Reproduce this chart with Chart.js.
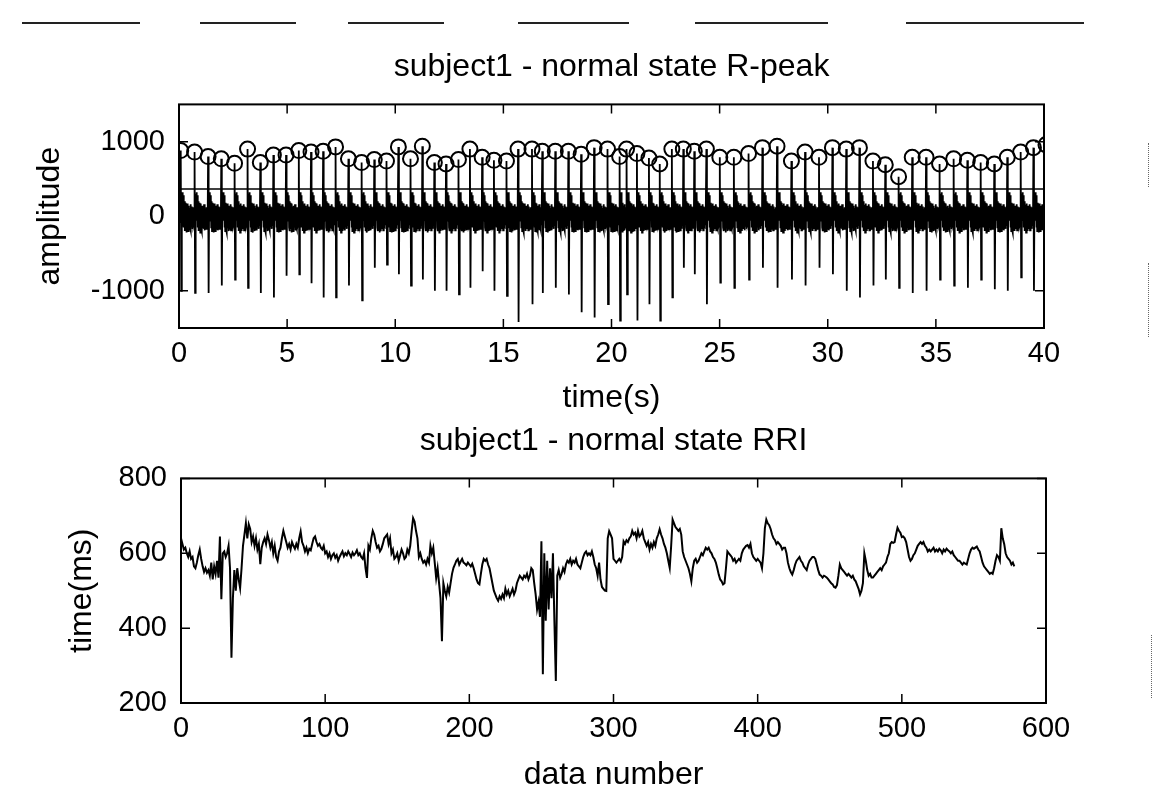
<!DOCTYPE html>
<html>
<head>
<meta charset="utf-8">
<title>subject1 - normal state</title>
<script src="https://cdn.jsdelivr.net/npm/chart.js@4.4.1/dist/chart.umd.min.js"></script>
<style>
  body { margin: 0; background: #fff; overflow: hidden; }
  #page { position: relative; width: 1154px; height: 798px; overflow: hidden; background: #fff; }
  .box { position: absolute; left: 0; }
  #peakBox { top: 0; }
  #rriBox { top: 410px; }
  .dash { position: absolute; top: 22px; height: 0; border-top: 2px solid #222; }
  .dots { position: absolute; width: 0; border-left: 1px dotted #666; }
</style>
</head>
<body>
<div id="page">
  <div class="dash" style="left:22px;width:118px"></div>
  <div class="dash" style="left:200px;width:96px"></div>
  <div class="dash" style="left:348px;width:96px"></div>
  <div class="dash" style="left:518px;width:111px"></div>
  <div class="dash" style="left:695px;width:133px"></div>
  <div class="dash" style="left:906px;width:178px"></div>
  <div class="dots" style="left:1148px;top:143px;height:44px"></div>
  <div class="dots" style="left:1148px;top:263px;height:74px"></div>
  <div class="dots" style="left:1151px;top:635px;height:63px"></div>
  <div class="box" id="peakBox"><canvas id="peakChart" width="1154" height="425"></canvas></div>
  <div class="box" id="rriBox"><canvas id="rriChart" width="1154" height="388"></canvas></div>
</div>
<script>
// RR intervals in ms, one per beat
const rri = [
  640, 625, 610, 615, 600, 590, 605, 585, 590, 565,
  560, 575, 595, 610, 585, 565, 550, 560, 548, 555,
  540, 575, 530, 565, 545, 580, 535, 645, 477, 600,
  605, 590, 600, 620, 560, 321, 480, 555, 500, 560,
  530, 507, 560, 620, 650, 680, 640, 677, 665, 630,
  645, 620, 640, 610, 625, 571, 615, 630, 640, 625,
  650, 635, 615, 630, 600, 620, 590, 580, 605, 615,
  640, 660, 645, 630, 615, 625, 610, 630, 620, 612,
  625, 615, 640, 658, 630, 620, 605, 615, 600, 612,
  608, 625, 640, 645, 630, 620, 625, 615, 610, 620,
  600, 605, 590, 600, 585, 595, 600, 588, 595, 580,
  590, 598, 605, 592, 600, 595, 605, 598, 590, 602,
  595, 600, 608, 595, 600, 590, 585, 600, 560, 534,
  620, 610, 640, 660, 650, 630, 615, 620, 605, 612,
  625, 640, 645, 650, 625, 640, 600, 610, 585, 590,
  600, 580, 595, 610, 600, 585, 590, 610, 600, 620,
  660, 694, 685, 660, 640, 590, 600, 585, 575, 580,
  570, 585, 575, 620, 600, 615, 575, 534, 560, 520,
  480, 365, 520, 500, 485, 510, 495, 520, 545, 561,
  570, 580, 585, 570, 578, 585, 575, 572, 568, 575,
  570, 565, 572, 560, 545, 530, 520, 517, 545, 570,
  585, 580, 585, 570, 560, 540, 520, 500, 490, 480,
  473, 485, 478, 490, 480, 505, 490, 500, 485, 495,
  505, 490, 500, 520, 530, 540, 535, 530, 540, 535,
  545, 530, 540, 560, 555, 520, 490, 450, 470, 430,
  632, 277, 600, 420, 580, 450, 560, 480, 600, 420,
  259, 540, 555, 535, 545, 560, 550, 570, 580, 575,
  585, 570, 580, 575, 585, 570, 565, 560, 575, 590,
  600, 605, 595, 600, 595, 605, 590, 570, 560, 540,
  575, 530, 510, 505, 500, 499, 640, 659, 650, 640,
  585, 580, 575, 580, 585, 578, 590, 632, 625, 635,
  630, 640, 645, 660, 650, 655, 640, 660, 645, 650,
  660, 640, 630, 620, 630, 610, 625, 615, 630, 620,
  640, 650, 664, 650, 640, 625, 615, 600, 580, 561,
  620, 690, 680, 670, 665, 660, 665, 650, 605, 590,
  580, 570, 560, 545, 525, 560, 580, 585, 575, 580,
  590, 600, 595, 605, 615, 610, 615, 605, 600, 590,
  585, 575, 560, 543, 530, 525, 517, 520, 560, 605,
  600, 595, 590, 580, 585, 575, 580, 585, 580, 600,
  610, 615, 620, 622, 615, 625, 600, 590, 585, 580,
  585, 580, 575, 560, 600, 667, 690, 680, 675, 665,
  650, 640, 635, 625, 630, 625, 620, 610, 615, 615,
  600, 575, 560, 550, 543, 555, 570, 580, 585, 590,
  580, 575, 565, 560, 555, 570, 580, 585, 590, 590,
  585, 570, 555, 543, 540, 535, 540, 538, 535, 530,
  525, 520, 517, 510, 508, 515, 540, 570, 560, 555,
  550, 545, 540, 545, 540, 535, 540, 530, 525, 515,
  505, 490, 500, 520, 600, 580, 555, 540, 545, 535,
  535, 540, 545, 550, 555, 560, 555, 565, 570, 575,
  590, 600, 625, 630, 628, 630, 650, 668, 660, 655,
  643, 645, 640, 630, 610, 590, 580, 585, 595, 600,
  610, 620, 625, 630, 625, 630, 620, 615, 605, 610,
  605, 610, 615, 605, 610, 605, 612, 608, 600, 610,
  605, 612, 608, 605, 600, 605, 595, 590, 585, 580,
  580, 575, 570, 575, 572, 570, 585, 600, 610, 615,
  612, 615, 618, 610, 605, 590, 575, 565, 560, 555,
  550, 545, 548, 545, 560, 580, 595, 590, 580, 667,
  640, 625, 600, 590, 585, 580, 570, 575, 565
];

// R-peak and S-trough amplitudes of the beats in the first 40 s
const peakAmp = [
  880, 860, 800, 770, 710, 900, 720, 820, 820, 880,
  860, 870, 930, 770, 720, 760, 740, 930, 770, 940,
  720, 700, 760, 900, 790, 750, 740, 900, 900, 870,
  870, 870, 830, 920, 900, 800, 900, 840, 780, 700,
  900, 900, 870, 900, 790, 790, 840, 920, 940, 740,
  860, 790, 920, 900, 920, 740, 690, 530, 790, 790,
  700, 770, 750, 720, 700, 790, 860, 920, 960
];
const troughAmp = [
  -1000, -1030, -1030, -930, -850, -960, -1030, -1090, -800, -780,
  -900, -1090, -1090, -930, -1130, -690, -650, -780, -930, -850,
  -1000, -1000, -1050, -960, -740, -1000, -1070, -1420, -1180, -1030,
  -960, -1050, -1290, -1360, -1180, -1400, -1050, -1400, -1180, -1400,
  -1090, -690, -780, -1180, -890, -960, -850, -690, -960, -850,
  -930, -690, -780, -1000, -1090, -930, -850, -960, -1030, -1000,
  -850, -930, -960, -850, -980, -1000, -820, -1000, -1000
];
// baseline noise between S wave and next Q wave
const ripple = [300, 120, 320, -60, 280, -150, 200, -200, 180, -180, 150, -220, 170, -160,
                120, -200, 140, -170, 110, -150, 160, -190, 130, -140, 100, -170, 120, -120];

const firstPeak = 0.08;   // s
const threshold = 365;    // detection level

const ampTicks = [-1000, 0, 1000];
const secTicks = [0, 5, 10, 15, 20, 25, 30, 35, 40];
const rriTicks = [200, 400, 600, 800];
const numTicks = [0, 100, 200, 300, 400, 500, 600];

// peak times follow from the RR intervals
const peakTimes = [];
let t = firstPeak;
for (let i = 0; i < peakAmp.length; i++) {
  peakTimes.push(t);
  t += rri[i] / 1000;
}

const ecg = [{ x: 0, y: 0 }];
peakTimes.forEach((tp, i) => {
  ecg.push({ x: tp - 0.02, y: -80 });
  ecg.push({ x: tp, y: peakAmp[i] });
  ecg.push({ x: tp + 0.025, y: troughAmp[i] });
  const start = tp + 0.05;
  const end = i + 1 < peakTimes.length ? peakTimes[i + 1] - 0.03 : tp + 0.6;
  const step = (end - start) / ripple.length;
  ripple.forEach((v, k) => ecg.push({ x: start + k * step, y: v }));
});
const peaks = peakTimes.map((tp, i) => ({ x: tp, y: peakAmp[i] }));
const rriPoints = rri.map((v, i) => ({ x: i, y: v }));

const fontFamily = "'Liberation Sans', Arial, sans-serif";
const tickFont = { family: fontFamily, size: 29 };
const labelFont = { family: fontFamily, size: 32 };

const fixedTicks = values => scale => { scale.ticks = values.map(v => ({ value: v })); };

// box around the plot with tick marks pointing inward on all four sides
const matlabAxes = {
  id: 'matlabAxes',
  afterDatasetsDraw(chart) {
    const { ctx, chartArea: a, scales: { x, y } } = chart;
    ctx.save();
    ctx.strokeStyle = '#000';
    ctx.lineWidth = 2;
    ctx.strokeRect(a.left, a.top, a.right - a.left, a.bottom - a.top);
    ctx.lineWidth = 1.5;
    ctx.beginPath();
    x.ticks.forEach(tk => {
      const px = x.getPixelForValue(tk.value);
      ctx.moveTo(px, a.bottom); ctx.lineTo(px, a.bottom - 9);
      ctx.moveTo(px, a.top); ctx.lineTo(px, a.top + 9);
    });
    y.ticks.forEach(tk => {
      const py = y.getPixelForValue(tk.value);
      ctx.moveTo(a.left, py); ctx.lineTo(a.left + 9, py);
      ctx.moveTo(a.right, py); ctx.lineTo(a.right - 9, py);
    });
    ctx.stroke();
    ctx.restore();
  }
};

const makeAxis = (min, max, ticks, title, fit, tickPad, titlePad) => ({
  type: 'linear', min: min, max: max,
  afterBuildTicks: fixedTicks(ticks),
  afterFit: fit,
  grid: { display: false, drawTicks: false },
  border: { display: false },
  ticks: { color: '#000', font: tickFont, padding: tickPad, maxRotation: 0, autoSkip: false, callback: v => String(v) },
  title: { display: true, text: title, color: '#000', font: labelFont, padding: titlePad }
});

new Chart(document.getElementById('peakChart'), {
  type: 'line',
  data: {
    datasets: [
      { data: ecg, borderColor: '#000', borderWidth: 1.8, pointRadius: 0, clip: 0 },
      { data: [{ x: 0, y: threshold }, { x: 40, y: threshold }], borderColor: '#000', borderWidth: 1.4, pointRadius: 0 },
      { data: peaks, showLine: false, pointStyle: 'circle', pointRadius: 7.5, borderWidth: 2,
        borderColor: '#000', backgroundColor: 'rgba(0,0,0,0)', clip: 0 }
    ]
  },
  options: {
    responsive: false, animation: false, parsing: false, normalized: true,
    layout: { padding: { left: 0, right: 110, top: 0, bottom: 0 } },
    plugins: {
      legend: { display: false }, tooltip: { enabled: false },
      title: { display: true, fullSize: false, text: 'subject1 - normal state R-peak', color: '#000',
               font: { family: fontFamily, size: 32, weight: 'normal' }, padding: { top: 48, bottom: 18 } }
    },
    scales: {
      x: makeAxis(0, 40, secTicks, 'time(s)', s => { s.height = 97; }, 9, { top: 0, bottom: 8 }),
      y: makeAxis(-1500, 1500, ampTicks, 'amplitude', s => { s.width = 179; }, 14, { top: 31, bottom: 0 })
    }
  },
  plugins: [matlabAxes]
});

new Chart(document.getElementById('rriChart'), {
  type: 'line',
  data: {
    datasets: [
      { data: rriPoints, borderColor: '#000', borderWidth: 2, pointRadius: 0 }
    ]
  },
  options: {
    responsive: false, animation: false, parsing: false, normalized: true,
    layout: { padding: { left: 0, right: 108, top: 0, bottom: 0 } },
    plugins: {
      legend: { display: false }, tooltip: { enabled: false },
      title: { display: true, fullSize: false, text: 'subject1 - normal state RRI', color: '#000',
               font: { family: fontFamily, size: 32, weight: 'normal' }, padding: { top: 12, bottom: 18 } }
    },
    scales: {
      x: makeAxis(0, 600, numTicks, 'data number', s => { s.height = 95; }, 9, { top: 0, bottom: 4 }),
      y: makeAxis(200, 800, rriTicks, 'time(ms)', s => { s.width = 181; }, 14, { top: 63, bottom: 0 })
    }
  },
  plugins: [matlabAxes]
});
</script>
</body>
</html>
